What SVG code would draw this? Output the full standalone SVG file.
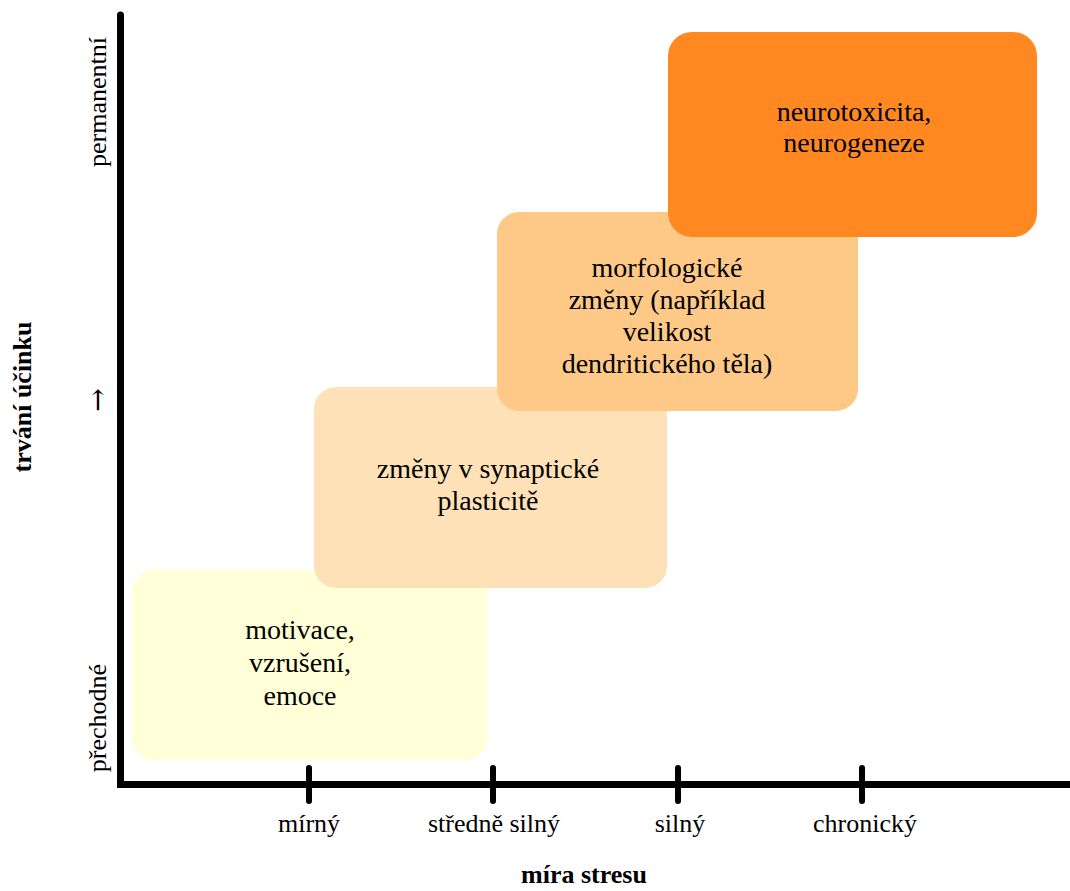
<svg xmlns="http://www.w3.org/2000/svg" width="1070" height="891" viewBox="0 0 1070 891">
<style>
.box{stroke:none}
.bt{font-family:"Liberation Serif","Times New Roman",serif;font-size:28px;fill:#000;text-anchor:middle}
.al{font-family:"Liberation Serif","Times New Roman",serif;font-size:26px;fill:#000;text-anchor:middle}
.ab{font-family:"Liberation Serif","Times New Roman",serif;font-size:26px;font-weight:bold;fill:#000;text-anchor:middle}
.arr{font-family:"DejaVu Serif","Liberation Serif",serif;font-size:28px;fill:#000;text-anchor:middle}
.axis{stroke:#000;stroke-width:7;fill:none;stroke-linecap:round}
.tick{stroke:#000;stroke-width:6;stroke-linecap:round}
</style>
<rect width="1070" height="891" fill="#fff"/>
<g id="box1">
<rect class="box" x="132" y="570" width="355" height="190" rx="22" fill="#FFFFD8"/>
<text class="bt" x="300" y="639">motivace,</text>
<text class="bt" x="300" y="672">vzrušení,</text>
<text class="bt" x="300" y="705">emoce</text>
</g>
<g id="box2">
<rect class="box" x="314" y="387" width="353" height="201" rx="22" fill="#FEE1B7"/>
<text class="bt" x="488" y="478">změny v synaptické</text>
<text class="bt" x="488" y="510">plasticitě</text>
</g>
<g id="box3">
<rect class="box" x="497" y="212" width="361" height="199" rx="22" fill="#FEC887"/>
<text class="bt" x="667" y="277">morfologické</text>
<text class="bt" x="667" y="309">změny (například</text>
<text class="bt" x="667" y="341">velikost</text>
<text class="bt" x="667" y="373">dendritického těla)</text>
</g>
<g id="box4">
<rect class="box" x="668" y="32" width="369" height="205" rx="24" fill="#FF8820"/>
<text class="bt" x="854" y="121">neurotoxicita,</text>
<text class="bt" x="854" y="152">neurogeneze</text>
</g>
<g id="axes">
<path class="axis" d="M120.5 15 V784.5 H1070"/>
<line class="tick" x1="309" y1="768" x2="309" y2="801"/>
<line class="tick" x1="493" y1="768" x2="493" y2="801"/>
<line class="tick" x1="678" y1="768" x2="678" y2="801"/>
<line class="tick" x1="862" y1="768" x2="862" y2="801"/>
</g>
<g id="x-labels">
<text class="al" x="309" y="832">mírný</text>
<text class="al" x="494" y="832">středně silný</text>
<text class="al" x="680" y="832">silný</text>
<text class="al" x="865" y="832">chronický</text>
<text class="ab" x="584" y="883">míra stresu</text>
</g>
<g id="y-labels">
<text class="al" transform="translate(106,102) rotate(-90)">permanentní</text>
<text class="arr" transform="translate(107,400) rotate(-90)">→</text>
<text class="al" transform="translate(106,718) rotate(-90)">přechodné</text>
<text class="ab" transform="translate(31,397) rotate(-90)">trvání účinku</text>
</g>
</svg>
